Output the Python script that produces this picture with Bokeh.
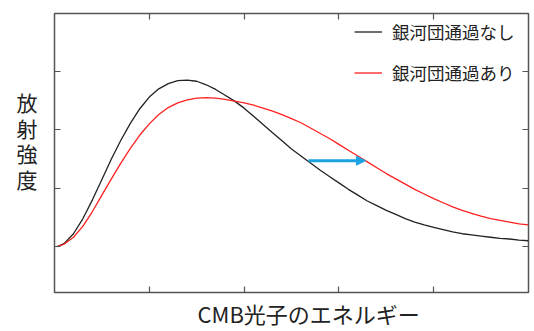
from bokeh.plotting import figure
from bokeh.models import (Range1d, FixedTicker, LinearAxis, Legend, Title,
                          LegendItem, Arrow, NormalHead, CustomJSTickFormatter)
from bokeh.embed import file_html
from bokeh.resources import INLINE

# ---- data ----
energy = [0.03, 0.1, 0.2, 0.3, 0.4, 0.5, 0.6, 0.7, 0.8, 0.9,
          1.0, 1.1, 1.2, 1.3, 1.4, 1.5, 1.6, 1.7, 1.8, 1.9,
          2.0, 2.1, 2.2, 2.3, 2.4, 2.5, 2.6, 2.7, 2.8, 2.9,
          3.0, 3.1, 3.2, 3.3, 3.4, 3.5, 3.6, 3.7, 3.8, 3.9,
          4.0, 4.1, 4.2, 4.3, 4.4, 4.5, 4.6, 4.7, 4.8, 4.9, 5.0]
no_cluster = [0.0, 0.05, 0.22, 0.48, 0.80, 1.15, 1.50, 1.82, 2.11, 2.36,
              2.56, 2.70, 2.79, 2.84, 2.85, 2.83, 2.77, 2.69, 2.59, 2.49,
              2.37, 2.23, 2.09, 1.95, 1.81, 1.67, 1.55, 1.43, 1.31, 1.20,
              1.09, 0.98, 0.88, 0.78, 0.70, 0.62, 0.55, 0.48, 0.42, 0.37,
              0.33, 0.29, 0.25, 0.22, 0.20, 0.18, 0.16, 0.14, 0.13, 0.11, 0.10]
with_cluster = [0.0, 0.04, 0.16, 0.35, 0.60, 0.88, 1.16, 1.43, 1.68, 1.91,
                2.10, 2.26, 2.38, 2.46, 2.51, 2.54, 2.55, 2.54, 2.52, 2.49,
                2.46, 2.42, 2.37, 2.32, 2.26, 2.19, 2.12, 2.03, 1.94, 1.85,
                1.75, 1.65, 1.55, 1.45, 1.35, 1.25, 1.16, 1.07, 0.98, 0.90,
                0.82, 0.75, 0.68, 0.62, 0.57, 0.52, 0.48, 0.45, 0.42, 0.39, 0.37]
series_names = ["銀河団通過なし", "銀河団通過あり"]
x_ticks = [1, 2, 3, 4]
y_ticks = [0, 1, 2, 3]
x_limits = [0, 5]
y_limits = [-0.786, 3.99]
arrow_from = [2.68, 1.47]
arrow_to = [3.28, 1.47]
y_label = "放\n射\n強\n度\n"
x_label = "CMB光子のエネルギー"

FONT = "Noto Sans CJK JP"
FRAME = "#555555"
TEXT = "#222222"

p = figure(width=534, height=331, output_backend="svg", toolbar_location=None,
           x_range=Range1d(*x_limits), y_range=Range1d(*y_limits),
           min_border_left=54, min_border_right=6, min_border_top=13,
           min_border_bottom=39)
p.xgrid.visible = False
p.ygrid.visible = False
p.outline_line_color = FRAME
p.outline_line_width = 1.5
p.background_fill_color = "white"
p.border_fill_color = "white"

blank = CustomJSTickFormatter(code="return ''")

def style_axis(ax, ticks):
    ax.ticker = FixedTicker(ticks=ticks)
    ax.formatter = blank
    ax.major_tick_in = 6
    ax.major_tick_out = 0
    ax.minor_tick_line_color = None
    ax.major_tick_line_color = FRAME
    ax.major_tick_line_width = 1.2
    ax.axis_line_color = None
    ax.major_label_text_font_size = "1px"
    ax.major_label_standoff = 0

style_axis(p.xaxis[0], x_ticks)
style_axis(p.yaxis[0], y_ticks)
top_ax = LinearAxis()
style_axis(top_ax, x_ticks)
p.add_layout(top_ax, "above")
right_ax = LinearAxis()
style_axis(right_ax, y_ticks)
p.add_layout(right_ax, "right")

# vertical, upright y label
yax = p.yaxis[0]
yax.axis_label = y_label
yax.axis_label_orientation = "horizontal"
yax.axis_label_text_font = FONT
yax.axis_label_text_font_size = "21px"
yax.axis_label_text_font_style = "normal"
yax.axis_label_text_color = TEXT
yax.axis_label_text_line_height = 0.85
yax.axis_label_standoff = 17

p.add_layout(Title(text=x_label, align="left", offset=143, vertical_align="bottom",
                   standoff=4, text_font=FONT, text_font_size="22px",
                   text_font_style="normal", text_color=TEXT), "below")

r1 = p.line(energy, no_cluster, line_color="#222222", line_width=1.3)
r2 = p.line(energy, with_cluster, line_color="#ff2020", line_width=1.3)

p.add_layout(Arrow(end=NormalHead(size=9, fill_color="#1aa3e0", line_color="#1aa3e0"),
                   x_start=arrow_from[0], y_start=arrow_from[1],
                   x_end=arrow_to[0], y_end=arrow_to[1],
                   line_color="#1aa3e0", line_width=3))

legend = Legend(items=[LegendItem(label=series_names[0], renderers=[r1]),
                       LegendItem(label=series_names[1], renderers=[r2])],
                location="top_right", border_line_color=None,
                background_fill_alpha=0, label_text_font_size="17.5px",
                label_text_font=FONT, label_text_color=TEXT,
                glyph_width=28, glyph_height=21, label_height=21, label_width=130,
                label_standoff=10, spacing=16, padding=0, margin=6)
p.add_layout(legend)

open("out.html", "w").write(file_html(p, INLINE))
